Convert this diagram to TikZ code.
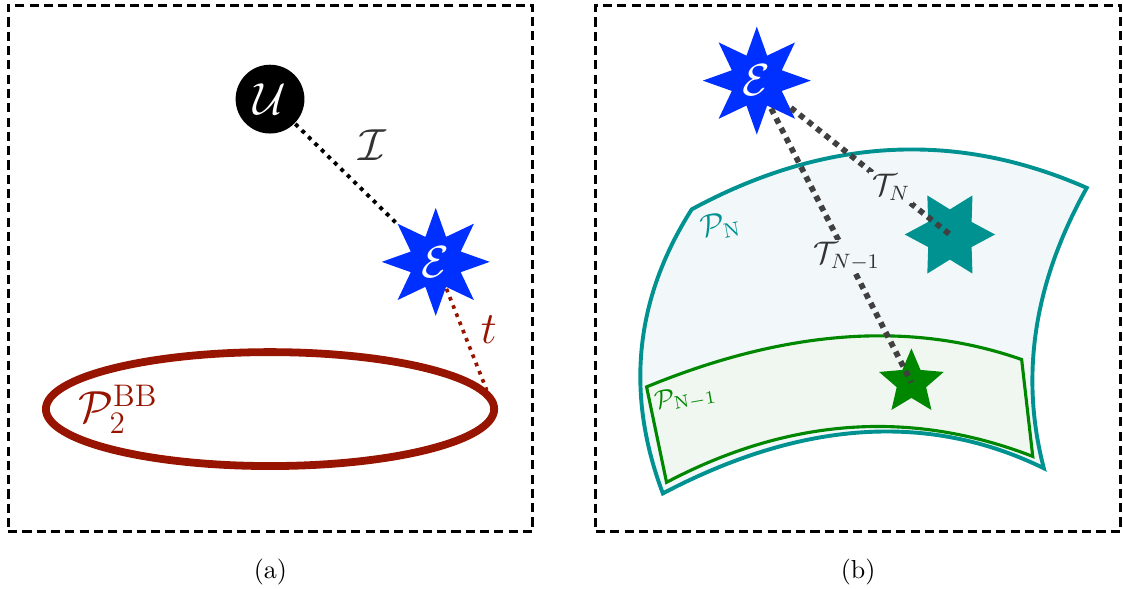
\documentclass[tikz,border=0pt]{standalone}
\usepackage{amsmath,amssymb}
\usetikzlibrary{shapes.geometric,positioning}

\definecolor{ublue}{RGB}{0,48,255}
\definecolor{bbred}{RGB}{150,20,0}
\definecolor{pteal}{RGB}{0,145,145}
\definecolor{ptealfill}{RGB}{242,247,249}
\definecolor{pgreen}{RGB}{0,135,0}
\definecolor{pgreenfill}{RGB}{240,247,240}
\definecolor{tgray}{RGB}{64,64,64}

\begin{document}
\begin{tikzpicture}[thick,
    panel/.style={draw, line width=1.2pt, dash pattern=on 3.5pt off 2pt,
        minimum width=7.09cm, minimum height=7.11cm, inner sep=0pt},
    estar/.style={star, star points=8, star point ratio=2, fill=ublue,
        minimum size=1.46cm, inner sep=0pt, text=white, font=\LARGE},
    tline/.style={draw=tgray, dotted, line width=2.2pt},
    trajlab/.style={fill=ptealfill, inner sep=1pt, text=black!80, font=\large}]
    \useasboundingbox (0,0) rectangle (15.18,7.95);

    % 两个虚线框及标号
    \node[panel] (boxa) at (3.655,4.325) {};
    \node[panel] (boxb) at (11.60,4.325) {};
    \node[below=0.22cm of boxa] (capa) {(a)};
    \node[below=0.22cm of boxb] (capb) {(b)};

    % (a) U, E 及 P_2^BB
    \node[circle, fill=black, minimum size=0.93cm, inner sep=0pt, text=white, font=\LARGE] (U) at (3.65,6.61) {$\mathcal{U}$};
    \node[estar] (Ea) at (5.89,4.41) {$\mathcal{E}$};
    \node[ellipse, draw=bbred, line width=3pt, minimum width=6.06cm, minimum height=1.54cm, inner sep=0pt] (pbb) at (3.65,2.42) {};
    \node[right=0.36cm of pbb.west, text=bbred, font=\LARGE] (pbblab) {$\mathcal{P}_2^{\mathrm{BB}}$};

    % (a) 虚线连接
    \draw[dotted, line width=1.5pt] (U) -- node[midway, above right=1pt, font=\LARGE, text=black!80] (Ilab) {$\mathcal{I}$} (Ea);
    \draw[dotted, line width=1.4pt, bbred] (Ea) -- node[pos=0.4, right=3pt, font=\LARGE] (tlabel) {$t$} (pbb.5);

    % (b) 区域 P_N 与 P_{N-1}
    \draw[pteal, fill=ptealfill, line width=1.5pt] (9.35,5.12) .. controls (11.14,6.09) and (12.92,6.19) .. (14.69,5.41)
        .. controls (13.98,4.14) and (13.78,2.88) .. (14.11,1.62)
        .. controls (12.56,2.38) and (10.84,2.27) .. (8.96,1.28)
        .. controls (8.45,2.63) and (8.58,3.91) .. (9.35,5.12) -- cycle;
    \draw[pgreen, fill=pgreenfill, line width=1.2pt] (8.74,2.72) .. controls (10.61,3.49) and (12.30,3.62) .. (13.81,3.09)
        -- (13.96,1.78) .. controls (12.31,2.42) and (10.66,2.30) .. (9.01,1.43) -- cycle;
    \node[rotate=10, text=pteal, font=\large] (pnlab) at (9.74,4.89) {$\mathcal{P}_{\mathrm{N}}$};
    \node[rotate=10, text=pgreen] (pn1lab) at (9.27,2.57) {$\mathcal{P}_{\mathrm{N}-1}$};

    % (b) 星形
    \node[estar] (Eb) at (10.23,6.86) {$\mathcal{E}$};
    \node[star, star points=6, star point ratio=1.8, shape border rotate=30, fill=pteal, minimum size=1.22cm, inner sep=0pt] (sN) at (12.84,4.78) {};
    \node[star, star points=5, star point ratio=2.2, fill=pgreen, minimum size=0.92cm, inner sep=0pt] (sN1) at (12.32,2.78) {};

    % (b) 轨迹 T
    \draw[tline] (Eb) -- node[pos=0.63, trajlab] (TN) {$\mathcal{T}_N$} (sN.center);
    \draw[tline] (Eb) -- node[pos=0.54, trajlab] (TN1) {$\mathcal{T}_{N-1}$} (sN1.center);
\end{tikzpicture}
\end{document}
